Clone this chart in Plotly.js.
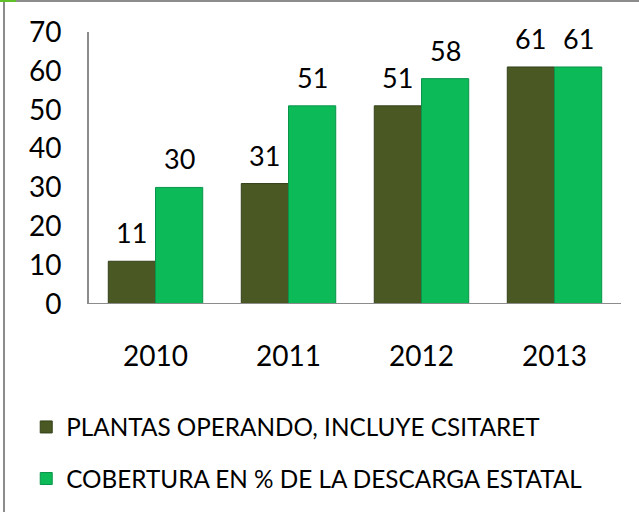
<!DOCTYPE html>
<html>
<head>
<meta charset="utf-8">
<script src="https://cdn.plot.ly/plotly-3.0.1.min.js"></script>
<style>
  html, body { margin:0; padding:0; background:#fff; }
  #wrap { position:relative; width:639px; height:512px; overflow:hidden; }
  #chart { position:absolute; left:0; top:0; width:639px; height:512px; }
  .bline { position:absolute; background:#8c8c8c; }
</style>
</head>
<body>
<div id="wrap">
  <div id="chart"></div>
  <div class="bline" style="left:0;top:0;width:639px;height:2px;"></div>
  <div class="bline" style="left:3px;top:0;width:2px;height:512px;"></div>
  <div style="position:absolute;left:0;top:0;width:16px;height:2px;background:#5fc02a;"></div>
</div>
<script>
const years = ['2010', '2011', '2012', '2013'];
const plantasOperando = [11, 31, 51, 61];
const cobertura = [30, 51, 58, 61];
const seriesNames = ['PLANTAS OPERANDO, INCLUYE CSITARET', 'COBERTURA EN % DE LA DESCARGA ESTATAL'];
const yTicks = [0, 10, 20, 30, 40, 50, 60, 70];

const FONT = 'Lato, "Open Sans", sans-serif';
const colors = ['#4a5823', '#0cba57'];
const edge = ['#34401a', '#08944a'];
const seriesVals = [plantasOperando, cobertura];

const traces = seriesVals.map((vals, s) => ({
  type: 'bar',
  x: years,
  y: vals,
  name: seriesNames[s],
  legendgroup: 'g' + s,
  marker: { color: colors[s], line: { color: edge[s], width: 1 } },
  hoverinfo: 'skip'
}));

const W = 639, H = 512;
const margin = { l: 89, r: 18, t: 31.5, b: 206.5 };
const bargap = 0.29;
const catPx = (W - margin.l - margin.r) / years.length;
const barPx = catPx * (1 - bargap) / 2;

const annotations = [];
seriesVals.forEach((vals, s) => {
  vals.forEach((v, i) => {
    annotations.push({
      x: i,
      y: v,
      xref: 'x', yref: 'y',
      xshift: (s === 0 ? -1 : 1) * barPx / 2,
      text: String(v),
      showarrow: false,
      yanchor: 'bottom',
      yshift: 10,
      font: { family: FONT, size: 27, color: '#000' }
    });
  });
});

const layout = {
  width: W, height: H,
  margin: margin,
  paper_bgcolor: 'rgba(0,0,0,0)',
  plot_bgcolor: 'rgba(0,0,0,0)',
  barmode: 'group',
  bargap: bargap,
  bargroupgap: 0,
  showlegend: true,
  legend: {
    orientation: 'v',
    x: -0.118, xref: 'paper',
    y: -0.365, yanchor: 'top',
    font: { family: FONT, size: 24.3, color: '#000' },
    tracegroupgap: 17,
    itemclick: false
  },
  xaxis: {
    type: 'category',
    range: [-0.5, years.length - 0.5],
    autorange: false,
    showline: false,
    ticks: '',
    ticklabelstandoff: 33,
    tickfont: { family: FONT, size: 28, color: '#000' },
    showgrid: false, zeroline: false
  },
  yaxis: {
    range: [0, 70],
    autorange: false,
    tickvals: yTicks,
    showline: true,
    linecolor: '#8c8c8c',
    linewidth: 2,
    ticks: '',
    ticklabelstandoff: 20,
    showgrid: false,
    zeroline: false,
    tickfont: { family: FONT, size: 28, color: '#000' }
  },
  shapes: [{
    type: 'line', xref: 'paper', yref: 'y',
    x0: 0, x1: 1, y0: 0, y1: 0,
    line: { color: '#8c8c8c', width: 2 }
  }],
  annotations: annotations
};

Plotly.newPlot('chart', traces, layout, { displayModeBar: false, staticPlot: true });
</script>
</body>
</html>
